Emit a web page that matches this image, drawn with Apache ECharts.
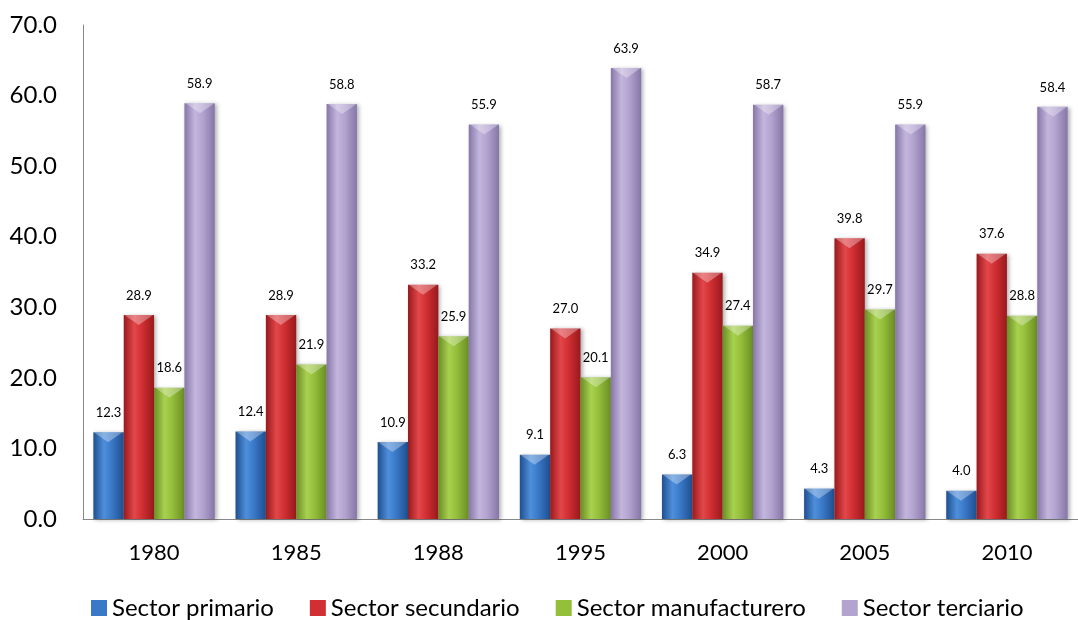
<!DOCTYPE html>
<html>
<head>
<meta charset="utf-8">
<script src="https://cdn.jsdelivr.net/npm/echarts@6/dist/echarts.min.js"></script>
<style>
  html, body { margin: 0; padding: 0; background: #fff; }
  #chart { width: 1078px; height: 620px; }
</style>
</head>
<body>
<div id="chart"></div>
<script>
// Years on the category axis
const years = ['1980', '1985', '1988', '1995', '2000', '2005', '2010'];

// Share of each sector (%)
const primario      = [12.3, 12.4, 10.9, 9.1, 6.3, 4.3, 4.0];
const secundario    = [28.9, 28.9, 33.2, 27.0, 34.9, 39.8, 37.6];
const manufacturero = [18.6, 21.9, 25.9, 20.1, 27.4, 29.7, 28.8];
const terciario     = [58.9, 58.8, 55.9, 63.9, 58.7, 55.9, 58.4];

const seriesNames = ['Sector primario', 'Sector secundario', 'Sector manufacturero', 'Sector terciario'];
const seriesData = [primario, secundario, manufacturero, terciario];

// Layout of the plot and the bar clusters
const GRID_LEFT = 83, GRID_RIGHT = -10, CHART_W = 1078;
const GAP_RATIO = 0.146;
const catWidth = (CHART_W - GRID_LEFT - GRID_RIGHT) / years.length;
const barW = catWidth * (1 - GAP_RATIO) / 4;

// Cylinder-like shading: dark edges, light centre
function shade(edge, mid, light) {
  return new echarts.graphic.LinearGradient(0, 0, 1, 0, [
    { offset: 0, color: edge },
    { offset: 0.35, color: light },
    { offset: 0.6, color: mid },
    { offset: 1, color: edge }
  ]);
}

const palette = [
  shade('#1f4f8f', '#3a79c8', '#4e8fdb'),
  shade('#98191c', '#d12f33', '#e2474a'),
  shade('#6a8e24', '#94bf3a', '#a9d150'),
  shade('#8676a8', '#b2a3cf', '#c3b6dd')
];

const legendColors = ['#3a79c8', '#d12f33', '#94bf3a', '#b2a3cf'];

const font = 'Lato, "Open Sans", sans-serif';

function makeSeries(name, data, i) {
  return {
    name: name,
    type: 'bar',
    data: data,
    barGap: '0%',
    barCategoryGap: (GAP_RATIO * 100) + '%',
    itemStyle: {
      color: palette[i],
      shadowColor: 'rgba(0,0,0,0.3)',
      shadowBlur: 4,
      shadowOffsetX: 2,
      shadowOffsetY: 1
    },
    label: {
      show: true,
      position: 'top',
      distance: 13,
      color: '#000',
      fontFamily: font,
      fontSize: 13,
      formatter: p => p.value.toFixed(1)
    }
  };
}

// Light bevel on the top face of each column
function makeBevel(data, i) {
  return {
    type: 'pictorialBar',
    data: data,
    silent: true,
    z: 3,
    symbol: 'path://M0,0 L30,0 L24,4 L15,10 L6,4 Z',
    symbolSize: [barW - 2, 10],
    symbolPosition: 'end',
    symbolOffset: [(i - 1.5) * barW, 0],
    itemStyle: { color: 'rgba(255,255,255,0.32)' },
    label: { show: false },
    tooltip: { show: false }
  };
}

const chart = echarts.init(document.getElementById('chart'), null, { renderer: 'canvas' });

chart.setOption({
  animation: false,
  backgroundColor: '#fff',
  grid: { left: GRID_LEFT, right: GRID_RIGHT, top: 25, bottom: 101, containLabel: false },
  legend: {
    top: 591,
    left: 86,
    itemWidth: 16,
    itemHeight: 16,
    itemGap: 36,
    icon: 'rect',
    textStyle: { fontFamily: font, fontSize: 24, color: '#000', padding: [0, 0, 0, 0] },
    data: seriesNames.map((n, i) => ({ name: n, itemStyle: { color: legendColors[i] } }))
  },
  xAxis: {
    type: 'category',
    data: years,
    axisLine: { lineStyle: { color: '#888', width: 1 } },
    axisTick: { show: false },
    axisLabel: {
      color: '#000',
      fontFamily: font,
      fontSize: 22,
      margin: 23
    }
  },
  yAxis: {
    type: 'value',
    min: 0,
    max: 70,
    interval: 10,
    axisLine: { show: true, lineStyle: { color: '#888', width: 1 } },
    axisTick: { show: false },
    splitLine: { show: false },
    axisLabel: {
      color: '#000',
      fontFamily: font,
      fontSize: 24,
      margin: 26,
      formatter: v => v.toFixed(1)
    }
  },
  series: seriesNames.map((n, i) => makeSeries(n, seriesData[i], i))
    .concat(seriesData.map((d, i) => makeBevel(d, i)))
});
</script>
</body>
</html>
